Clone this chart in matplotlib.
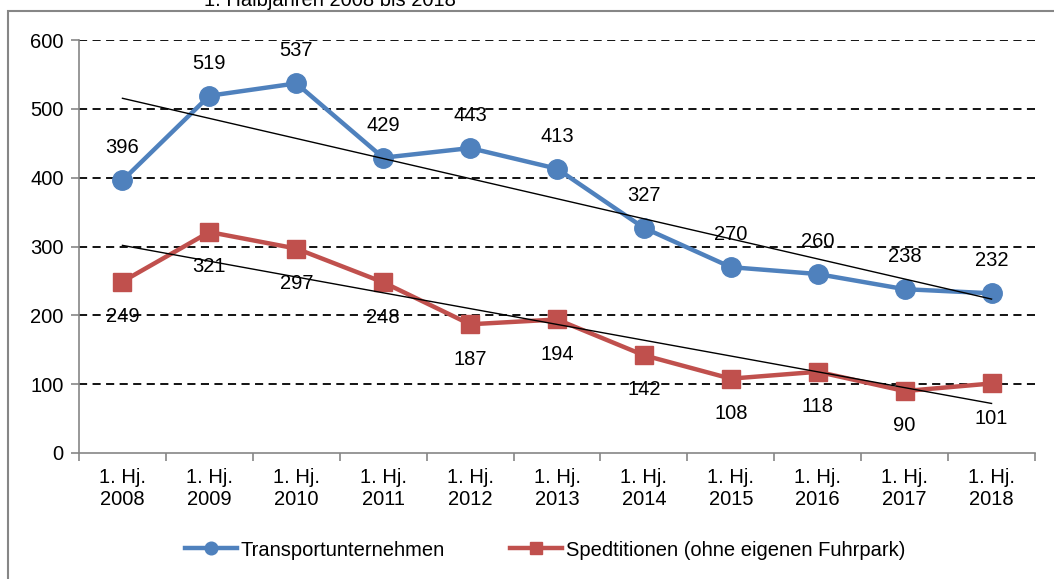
import matplotlib.pyplot as plt
import numpy as np
from matplotlib.patches import Rectangle

plt.rcParams['font.family'] = ['Liberation Sans', 'DejaVu Sans']

categories = ['1. Hj.\n2008', '1. Hj.\n2009', '1. Hj.\n2010', '1. Hj.\n2011',
              '1. Hj.\n2012', '1. Hj.\n2013', '1. Hj.\n2014', '1. Hj.\n2015',
              '1. Hj.\n2016', '1. Hj.\n2017', '1. Hj.\n2018']
transport = [396, 519, 537, 429, 443, 413, 327, 270, 260, 238, 232]
spedition = [249, 321, 297, 248, 187, 194, 142, 108, 118, 90, 101]

blue = '#4F81BD'
red = '#C0504D'
grey = '#868686'
fs = 14.5


def trend(y):
  x = np.arange(len(y))
  k, d = np.polyfit(x, y, 1)
  return x, k * x + d


fig = plt.figure(figsize=(10.54, 5.79), dpi=100)
ax = fig.add_axes([79 / 1054, 126 / 579, 956 / 1054, 413 / 579])

x = np.arange(len(categories))
ax.plot(x, transport, color=blue, lw=3.2, marker='o', ms=14,
        label='Transportunternehmen', zorder=3)
ax.plot(x, spedition, color=red, lw=3.2, marker='s', ms=13,
        label='Spedtitionen (ohne eigenen Fuhrpark)', zorder=3)

tx, ty = trend(transport)
ax.plot([tx[0], tx[-1]], [ty[0], ty[-1]], color='black', lw=1, zorder=4)
sx, sy = trend(spedition)
ax.plot([sx[0], sx[-1]], [sy[0], sy[-1]], color='black', lw=1, zorder=4)

for i, v in enumerate(transport):
  ax.annotate(str(v), (i, v), xytext=(0, 23.5), textcoords='offset points',
              ha='center', va='center', fontsize=fs)
for i, v in enumerate(spedition):
  ax.annotate(str(v), (i, v), xytext=(0, -25), textcoords='offset points',
              ha='center', va='center', fontsize=fs)

ax.set_xlim(-0.5, len(categories) - 0.5)
ax.set_ylim(0, 600)
ax.set_yticks(range(0, 601, 100))
ax.set_xticks(x)
ax.set_xticklabels(categories, fontsize=fs, linespacing=1.15)
ax.tick_params(axis='x', length=0, pad=11)
ax.set_xticks(np.arange(-0.5, len(categories)), minor=True)
ax.tick_params(axis='x', which='minor', length=6, color=grey, width=1.2)
ax.tick_params(axis='y', labelsize=fs, length=6, color=grey, width=1.2, pad=5)

for yv in range(100, 601, 100):
  ax.axhline(yv, color='black', lw=1.3, ls=(0, (4.5, 3)), zorder=1)

for s in ['top', 'right']:
  ax.spines[s].set_visible(False)
for s in ['left', 'bottom']:
  ax.spines[s].set_color(grey)
  ax.spines[s].set_linewidth(1.2)

fig.legend(loc='center', bbox_to_anchor=(545 / 1054, 1 - 550 / 579), ncol=2,
           frameon=False, fontsize=fs, handlelength=2.6, columnspacing=3.2,
           handletextpad=0.2, markerscale=0.65)

fig.patches.append(Rectangle((8 / 1054, -0.1), 1.2, 1 - 11 / 579 + 0.1,
                             transform=fig.transFigure, fill=False,
                             edgecolor=grey, lw=1.5))
fig.text(330 / 1054, 1 - 6 / 579, '1. Halbjahren 2008 bis 2018',
         ha='center', va='baseline', fontsize=fs)

plt.savefig('out.png', dpi=100)
